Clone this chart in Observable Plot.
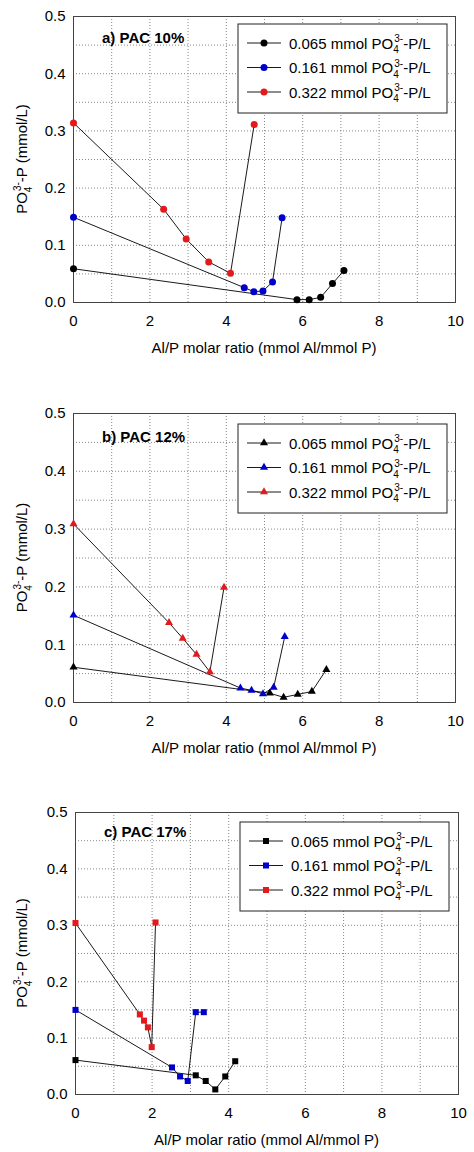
<!DOCTYPE html>
<html><head><meta charset="utf-8">
<script src="https://cdn.jsdelivr.net/npm/d3@7"></script>
<script src="https://cdn.jsdelivr.net/npm/@observablehq/plot@0.6"></script>
<style>
body{margin:0;background:#fff;}
#chart svg{display:block;}
</style></head><body><div id="chart"></div>
<script>
// ---- shared categories / ticks ----
const seriesNames = ["0.065", "0.161", "0.322"];
const seriesColors = ["#000000", "#0000cc", "#e3191c"];
const xTicks = [0, 2, 4, 6, 8, 10];
const yTicks = [0, 0.1, 0.2, 0.3, 0.4, 0.5];
const xGrid = [1, 2, 3, 4, 5, 6, 7, 8, 9];
const yGrid = [0.05, 0.1, 0.15, 0.2, 0.25, 0.3, 0.35, 0.4, 0.45];
const xTitle = "Al/P molar ratio (mmol Al/mmol P)";
const panelLabels = ["a) PAC 10%", "b) PAC 12%", "c) PAC 17%"];

// ---- panel a (PAC 10%) ----
const a065x = [0, 5.85, 6.17, 6.47, 6.78, 7.08];
const a065y = [0.059, 0.005, 0.005, 0.009, 0.033, 0.056];
const a161x = [0, 4.47, 4.72, 4.96, 5.21, 5.46];
const a161y = [0.149, 0.026, 0.019, 0.020, 0.036, 0.148];
const a322x = [0, 2.36, 2.95, 3.54, 4.11, 4.73];
const a322y = [0.314, 0.163, 0.111, 0.071, 0.051, 0.311];
// ---- panel b (PAC 12%) ----
const b065x = [0, 5.14, 5.50, 5.87, 6.24, 6.62];
const b065y = [0.061, 0.016, 0.009, 0.014, 0.019, 0.057];
const b161x = [0, 4.37, 4.66, 4.96, 5.24, 5.53];
const b161y = [0.151, 0.025, 0.021, 0.015, 0.026, 0.114];
const b322x = [0, 2.50, 2.86, 3.22, 3.57, 3.94];
const b322y = [0.309, 0.138, 0.111, 0.083, 0.053, 0.199];
// ---- panel c (PAC 17%) ----
const c065x = [0, 3.14, 3.40, 3.65, 3.91, 4.17];
const c065y = [0.061, 0.034, 0.024, 0.009, 0.032, 0.059];
const c161x = [0, 2.52, 2.73, 2.93, 3.14, 3.35];
const c161y = [0.150, 0.048, 0.032, 0.024, 0.146, 0.146];
const c322x = [0, 1.68, 1.79, 1.89, 1.99, 2.09];
const c322y = [0.304, 0.142, 0.131, 0.119, 0.084, 0.305];

const FONT = "'Liberation Sans', Arial, Helvetica, sans-serif";
const FS = 15;

const panels = [
  {label: panelLabels[0], symbol: "circle", r: 3.5, series: [[a065x, a065y], [a161x, a161y], [a322x, a322y]],
   height: 397, mt: 16, mb: 95, ml: 73, mr: 19, labelDy: 27, legDy: 8},
  {label: panelLabels[1], symbol: "triangle", r: 3.0, series: [[b065x, b065y], [b161x, b161y], [b322x, b322y]],
   height: 397, mt: 16, mb: 92, ml: 73, mr: 19, labelDy: 29, legDy: 11},
  {label: panelLabels[2], symbol: "square", r: 3.4, series: [[c065x, c065y], [c161x, c161y], [c322x, c322y]],
   height: 358, mt: 18, mb: 58, ml: 75, mr: 16, labelDy: 25, legDy: 10}
];

function po4(text, prefix, suffix, fs) {
  const small = Math.round(fs * 0.68);
  text.append("tspan").text(prefix + "PO");
  text.append("tspan").attr("font-size", small).attr("dy", fs * 0.3).text("4");
  text.append("tspan").attr("font-size", small).attr("dx", -small * 0.45).attr("dy", -fs * 0.72).text("3-");
  text.append("tspan").attr("dy", fs * 0.42).text(suffix);
}

const symbolTypes = {circle: d3.symbolCircle, triangle: d3.symbolTriangle, square: d3.symbolSquare};
const container = document.getElementById("chart");

panels.forEach((p) => {
  const rows = [];
  p.series.forEach(([xs, ys], i) => {
    xs.forEach((x, j) => rows.push({x, y: ys[j], s: seriesNames[i]}));
  });

  const plot = Plot.plot({
    width: 474,
    height: p.height,
    marginTop: p.mt, marginBottom: p.mb, marginLeft: p.ml, marginRight: p.mr,
    style: {fontFamily: FONT, fontSize: FS + "px", color: "#000", background: "#fff"},
    x: {domain: [0, 10]},
    y: {domain: [0, 0.5]},
    color: {domain: seriesNames, range: seriesColors},
    marks: [
      Plot.ruleX(xGrid, {stroke: "#888", strokeWidth: 1, strokeDasharray: "1,2"}),
      Plot.ruleY(yGrid, {stroke: "#888", strokeWidth: 1, strokeDasharray: "1,2"}),
      Plot.axisX({ticks: xTicks, tickSize: 0, tickPadding: 13, fontSize: FS, label: null}),
      Plot.axisY({ticks: yTicks, tickSize: 0, tickPadding: 8, fontSize: FS, tickFormat: d3.format(".1f"), label: null}),
      Plot.frame({stroke: "#444", strokeWidth: 1}),
      Plot.line(rows, {x: "x", y: "y", z: "s", stroke: "#000", strokeWidth: 0.9}),
      Plot.dot(rows, {x: "x", y: "y", fill: "s", symbol: p.symbol, r: p.r})
    ]
  });
  container.appendChild(plot);

  const svg = d3.select(plot);
  const [x0, x1] = plot.scale("x").range;
  const fTop = p.mt, fBot = p.height - p.mb;
  const cx = (x0 + x1) / 2, cy = (fTop + fBot) / 2;

  // x title
  svg.append("text").attr("x", cx).attr("y", fBot + 51).attr("text-anchor", "middle")
    .attr("font-family", FONT).attr("font-size", FS).attr("fill", "#000").text(xTitle);

  // y title
  const yt = svg.append("text").attr("x", 0).attr("y", 0).attr("text-anchor", "middle")
    .attr("transform", `translate(27,${cy}) rotate(-90)`)
    .attr("font-family", FONT).attr("font-size", FS).attr("fill", "#000");
  po4(yt, "", "-P (mmol/L)", FS);

  // panel label
  svg.append("text").attr("x", x0 + 29).attr("y", fTop + p.labelDy).attr("text-anchor", "start")
    .attr("font-family", FONT).attr("font-size", FS).attr("font-weight", "bold").attr("fill", "#000")
    .text(p.label);

  // legend
  const lg = svg.append("g").attr("transform", `translate(${x0 + 165},${fTop + p.legDy})`);
  lg.append("rect").attr("width", 209).attr("height", 89).attr("fill", "#fff").attr("stroke", "#222").attr("stroke-width", 1);
  seriesNames.forEach((name, i) => {
    const ry = 19 + i * 24.5;
    lg.append("line").attr("x1", 9).attr("x2", 43).attr("y1", ry).attr("y2", ry).attr("stroke", "#000").attr("stroke-width", 0.9);
    lg.append("path").attr("transform", `translate(26,${ry})`)
      .attr("d", d3.symbol().type(symbolTypes[p.symbol]).size(Math.PI * p.r * p.r)())
      .attr("fill", seriesColors[i]);
    const t = lg.append("text").attr("x", 51).attr("y", ry + 5.5).attr("text-anchor", "start")
      .attr("font-family", FONT).attr("font-size", FS).attr("fill", "#000");
    po4(t, name + " mmol ", "-P/L", FS);
  });
});
</script></body></html>
